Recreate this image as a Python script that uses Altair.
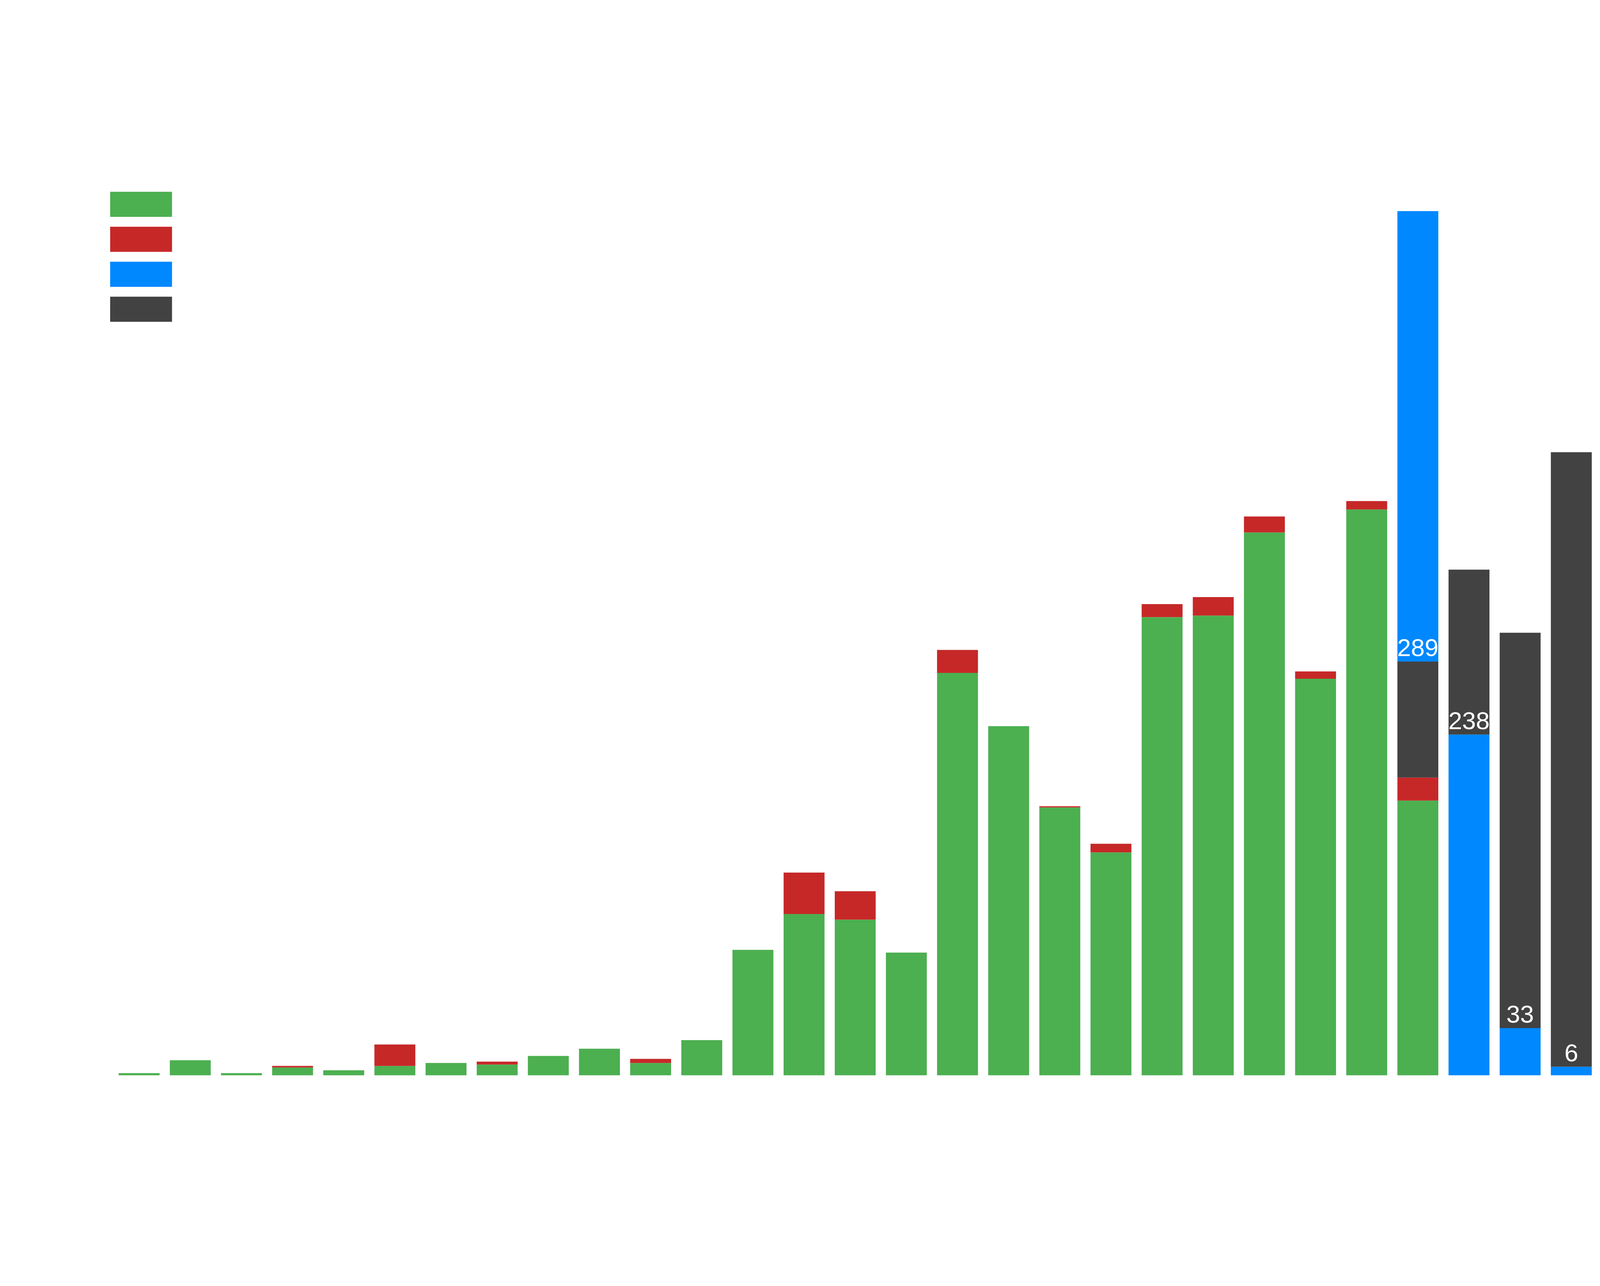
import altair as alt
import pandas as pd

categories = [str(i) for i in range(1, 30)]

series_names = ["Series 1", "Series 2", "Series 3", "Series 4"]
series_colors = ["#4caf50", "#c62828", "#0088ff", "#424242"]

green = [1.5, 10.5, 1.5, 5.5, 3.5, 6.6, 8.6, 7.5, 13.5, 18.6, 8.6, 24.6,
         87.6, 112.7, 108.7, 85.7, 281.1, 243.9, 187.1, 155.7, 320.0, 321.1,
         379.2, 277.0, 395.2, 191.9, 0, 0, 0]
red = [0, 0, 0, 1.1, 0, 14.9, 0, 2.1, 0, 0, 2.9, 0,
       0, 28.9, 19.9, 0, 16.0, 0, 0.8, 6.0, 9.1, 12.9,
       11.1, 5.1, 5.9, 16.1, 0, 0, 0]
blue = [0] * 25 + [314.6, 238, 33, 6]
dark = [0] * 25 + [81.0, 115.2, 276.1, 429.2]

label_categories = ["26", "27", "28", "29"]
label_values = [289, 238, 33, 6]

rows = []
for i, c in enumerate(categories):
    if green[i] > 0:
        order = {"Series 1": 0, "Series 2": 1, "Series 4": 2, "Series 3": 3}
    else:
        order = {"Series 3": 0, "Series 4": 1, "Series 1": 2, "Series 2": 3}
    for name, vals in zip(["Series 1", "Series 2", "Series 3", "Series 4"],
                          [green, red, blue, dark]):
        if vals[i] > 0:
            rows.append({"cat": c, "series": name, "value": vals[i], "ord": order[name]})
df = pd.DataFrame(rows)
labels_df = pd.DataFrame({"cat": label_categories, "value": label_values,
                          "label": [str(v) for v in label_values]})

xenc = alt.X("cat:N", sort=categories, axis=None,
             scale=alt.Scale(domain=categories, paddingInner=0.2, paddingOuter=0.1))
yscale = alt.Scale(domain=[0, 640], nice=False, zero=True)

bars = alt.Chart(df).mark_bar(strokeWidth=0).encode(
    x=xenc,
    y=alt.Y("value:Q", stack="zero", scale=yscale, axis=None),
    color=alt.Color("series:N",
                    scale=alt.Scale(domain=series_names, range=series_colors),
                    legend=alt.Legend(orient="none", legendX=-11, legendY=106,
                                      title=None, padding=0,
                                      symbolType="M-1,-1H3.938V1H-1Z",
                                      symbolSize=6561, symbolStrokeWidth=0,
                                      symbolOpacity=1, rowPadding=32,
                                      labelExpr="''", labelFontSize=1)),
    order=alt.Order("ord:Q"),
)

texts = alt.Chart(labels_df).mark_text(
    baseline="bottom", align="center", fontSize=80, color="white",
    font="Liberation Sans"
).encode(
    x=xenc,
    y=alt.Y("value:Q", scale=yscale, axis=None),
    text="label:N",
)

chart = alt.layer(bars, texts).properties(
    width=4795, height=2961,
    padding={"left": 357, "top": 84, "right": 0, "bottom": 150},
    autosize=alt.AutoSizeParams(type="none"),
    background="white",
).configure_view(stroke=None)

chart.save("out.html", embed_options={"renderer": "svg", "actions": False})
